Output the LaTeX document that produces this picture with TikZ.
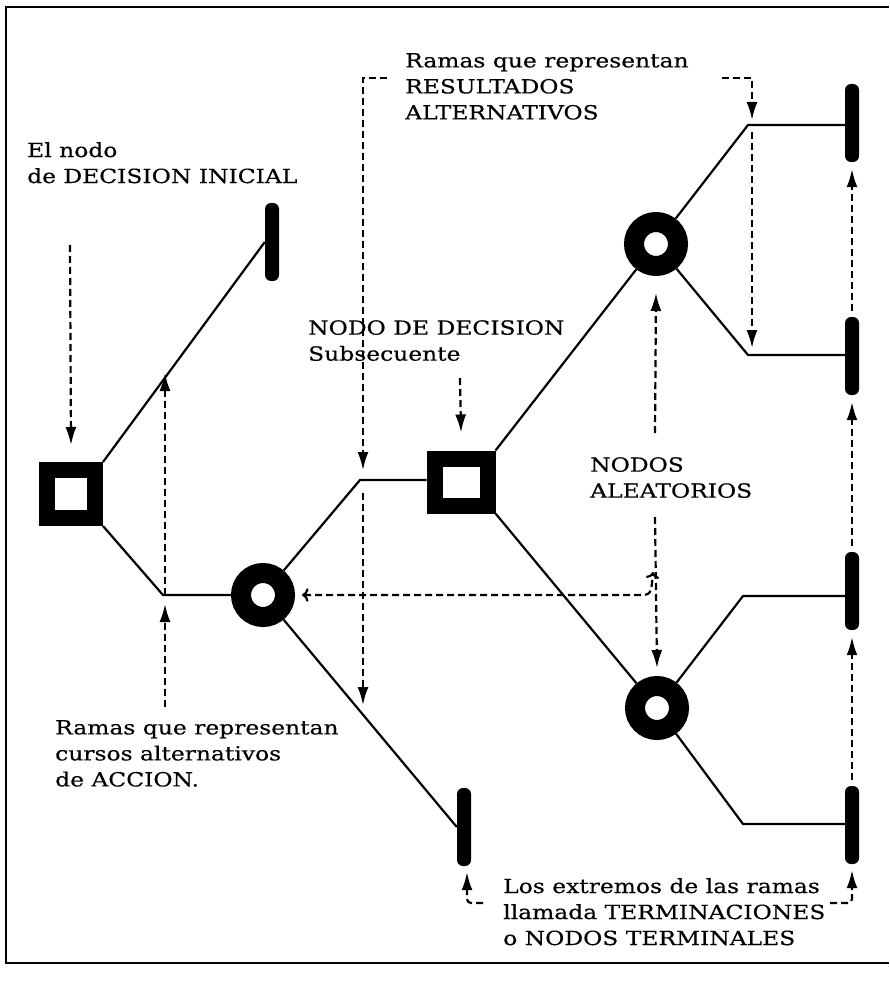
\documentclass[tikz,border=0pt]{standalone}
\usepackage{fontspec}
\setmainfont{DejaVu Serif}[FakeStretch=1.2, FakeBold=0.4]
\usetikzlibrary{arrows.meta}
\begin{document}
\begin{tikzpicture}[x=1pt, y=-1pt,
  decision/.style={draw, line width=16pt, fill=white, minimum width=48pt, minimum height=48pt, inner sep=0pt},
  chance/.style={circle, draw, line width=20pt, fill=white, minimum size=44pt, inner sep=0pt},
  terminal/.style={fill=black, rounded corners=6pt, minimum width=14pt, minimum height=78pt, inner sep=0pt},
  branch/.style={line width=2.2pt},
  pointer/.style={dashed, dash pattern=on 7pt off 4pt, line width=2.2pt, -{Latex[length=18pt, width=11pt]}},
  remark/.style={anchor=north west, inner sep=0pt, align=left, font=\fontsize{19.5}{26}\selectfont}]
\useasboundingbox (0,0) rectangle (889,981);
\draw [line width=1.5pt] (889,7) -- (6,7) -- (6,963) -- (889,963);
% nodos
\node [decision] (d1) at (71,494) {};
\node [decision, minimum width=53pt, minimum height=47pt] (d2) at (461,482) {};
\node [chance] (c1) at (263,595) {};
\node [chance] (c2) at (656,244) {};
\node [chance] (c3) at (657,708) {};
\node [terminal] (t0) at (272,242) {};
\node [terminal] (t1) at (852,123) {};
\node [terminal] (t2) at (852,356) {};
\node [terminal] (t3) at (852,591) {};
\node [terminal] (t4) at (852,825) {};
\node [terminal] (t5) at (464,827) {};
\coordinate (k1) at (163,595);
\coordinate (k2) at (360,480);
\coordinate (k3) at (748,125);
\coordinate (k4) at (748,355);
\coordinate (k5) at (743,596);
\coordinate (k6) at (743,824);
% ramas
\draw [branch] (d1.north east) -- (t0.west);
\draw [branch] (d1.south east) -- (k1) -- (c1);
\draw [branch] (c1) -- (k2) -- (k2 -| d2.west);
\draw [branch] (c1) -- (t5.west);
\draw [branch] (d2.north east) -- (c2);
\draw [branch] (d2.south east) -- (c3);
\draw [branch] (c2) -- (k3) -- (k3 -| t1.west);
\draw [branch] (c2) -- (k4) -- (k4 -| t2.west);
\draw [branch] (c3) -- (k5) -- (k5 -| t3.west);
\draw [branch] (c3) -- (k6) -- (k6 -| t4.west);
% textos
\node [remark] (ini) at (27,142) {El nodo\\de DECISION INICIAL};
\node [remark] (res) at (405,53) {Ramas que representan\\RESULTADOS\\ALTERNATIVOS};
\node [remark] (sub) at (308,320) {NODO DE DECISION\\Subsecuente};
\node [remark] (ale) at (590,457) {NODOS\\ALEATORIOS};
\node [remark] (acc) at (55,720) {Ramas que representan\\cursos alternativos\\de ACCION.};
\node [remark] (ter) at (503,878) {Los extremos de las ramas\\llamada TERMINACIONES\\o NODOS TERMINALES};
% flechas
\coordinate (a1) at (70,245);
\coordinate (a2) at (165,707);
\coordinate (a3) at (460,378);
\coordinate (b1) at (387,78);
\coordinate (b2) at (722,78);
\coordinate (n1) at (655,433);
\coordinate (n2) at (655,517);
\coordinate (n3) at (638,595);
\coordinate (q1) at (830,903);
\coordinate (q2) at (483,903);
\draw [pointer] (a1) -- ([yshift=17pt]d1.north);
\draw [pointer] ([xshift=2pt]k1) -- (165,373);
\draw [pointer] (a2) -- ([xshift=2pt, yshift=-9pt]k1);
\draw [pointer] (a3) -- ([yshift=18pt]d2.north);
\draw [pointer] (b1) -| ([xshift=3pt, yshift=10pt]k2);
\draw [pointer] ([xshift=3pt, yshift=-13pt]k2) -- (363,705);
\draw [pointer] (b2) -| ([xshift=4pt, yshift=5pt]k3);
\draw [pointer] ([xshift=4pt, yshift=-7pt]k3) -- ([xshift=4pt, yshift=7pt]k4);
\draw [pointer] (n1) -- ([yshift=-17pt]c2.south);
\draw [pointer] (n2) -- ([yshift=8pt]c3.north);
\draw [pointer, <->] ([xshift=7pt]c1.east) -- (n3) .. controls (651,595) .. (653,572);
\draw [pointer] ([yshift=6pt]t2.north) -- ([yshift=-7pt]t1.south);
\draw [pointer] ([yshift=6pt]t3.north) -- ([yshift=-7pt]t2.south);
\draw [pointer] ([yshift=6pt]t4.north) -- ([yshift=-7pt]t3.south);
\draw [pointer, rounded corners=4pt] (q1) -| ([yshift=-6pt]t4.south);
\draw [pointer, rounded corners=4pt] (q2) -| ([xshift=3pt, yshift=-6pt]t5.south);
\end{tikzpicture}
\end{document}
